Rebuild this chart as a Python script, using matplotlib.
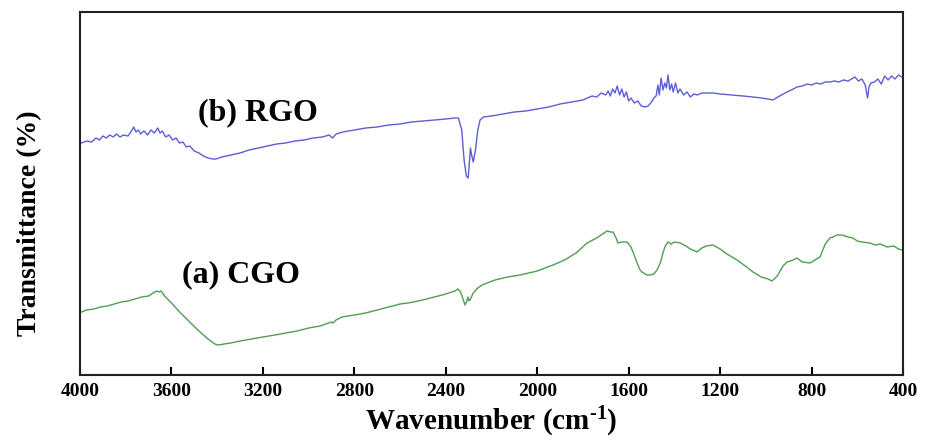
#!/usr/bin/env python3
"""FTIR transmittance spectra of CGO and RGO."""

import matplotlib

matplotlib.use("Agg")
import matplotlib.pyplot as plt
import numpy as np


# RGO spectrum (wavenumber, transmittance in arbitrary units)
RGO_WN = [
    3995, 3970, 3950, 3930, 3915, 3900, 3885, 3870, 3855, 3840, 3825, 3810,
    3790, 3775, 3765, 3755, 3745, 3735, 3720, 3705, 3690, 3675, 3660, 3650,
    3640, 3625, 3610, 3595, 3580, 3565, 3550, 3535, 3520, 3500, 3480, 3460,
    3440, 3420, 3405, 3380, 3340, 3300, 3260, 3220, 3180, 3140, 3100, 3060,
    3020, 2980, 2940, 2910, 2895, 2880, 2850, 2800, 2750, 2700, 2650, 2600,
    2550, 2500, 2450, 2400, 2360, 2345, 2330, 2320, 2310, 2302, 2296, 2292,
    2287, 2280, 2270, 2260, 2250, 2235, 2200, 2150, 2100, 2050, 2000, 1950,
    1900, 1850, 1800, 1780, 1760, 1740, 1720, 1700, 1690, 1680, 1670, 1660,
    1650, 1640, 1630, 1620, 1610, 1600, 1590, 1575, 1560, 1545, 1530, 1515,
    1500, 1490, 1480, 1472, 1466, 1458, 1450, 1442, 1435, 1428, 1420, 1412,
    1405, 1395, 1385, 1375, 1360, 1345, 1330, 1315, 1300, 1280, 1250, 1231,
    1200, 1150, 1100, 1056, 1020, 990, 969, 940, 907, 880, 864, 840,
    820, 800, 780, 760, 740, 719, 700, 680, 660, 640, 610, 595,
    580, 565, 555, 548, 540, 525, 510, 495, 480, 465, 450, 435,
    420, 405,
]
RGO_T = [
    232, 234, 233, 237, 235, 239, 237, 240, 238, 241, 238, 240,
    239, 244, 248, 243, 245, 241, 244, 240, 245, 242, 247, 242,
    244, 238, 240, 235, 237, 232, 233, 228, 229, 224, 222, 219,
    217, 216, 216, 218, 220, 222, 225, 227, 229, 231, 232, 234,
    235, 237, 238, 240, 237, 241, 243, 245, 247, 248, 250, 251,
    253, 254, 255, 256, 257, 257, 245, 215, 199, 197, 215, 227,
    220, 213, 225, 245, 255, 258, 259, 261, 263, 264, 266, 268,
    271, 273, 275, 277, 279, 278, 282, 280, 284, 279, 286, 282,
    289, 280, 286, 278, 283, 274, 277, 272, 274, 269, 268, 269,
    273, 277, 279, 290, 280, 297, 285, 292, 287, 300, 285, 291,
    283, 292, 282, 286, 280, 283, 278, 281, 280, 282, 282, 282,
    281, 280, 279, 278, 277, 276, 275, 279, 283, 286, 288, 289,
    291, 290, 292, 291, 293, 293, 294, 293, 295, 294, 298, 294,
    296, 290, 277, 289, 292, 293, 296, 291, 299, 295, 299, 296,
    300, 298,
]

# CGO spectrum (wavenumber, transmittance in arbitrary units)
CGO_WN = [
    3995, 3970, 3940, 3910, 3880, 3850, 3820, 3790, 3760, 3730, 3700, 3680,
    3665, 3655, 3645, 3630, 3600, 3560, 3520, 3480, 3440, 3410, 3395, 3370,
    3340, 3300, 3250, 3200, 3147, 3100, 3050, 3000, 2950, 2900, 2893, 2880,
    2854, 2800, 2750, 2700, 2650, 2600, 2565, 2500, 2450, 2400, 2360, 2347,
    2335, 2320, 2316, 2308, 2303, 2298, 2294, 2280, 2260, 2241, 2185, 2130,
    2075, 2000, 1931, 1880, 1830, 1782, 1740, 1695, 1680, 1668, 1655, 1647,
    1630, 1607, 1590, 1581, 1565, 1550, 1542, 1520, 1507, 1490, 1476, 1460,
    1450, 1440, 1428, 1415, 1400, 1375, 1350, 1330, 1301, 1280, 1260, 1231,
    1200, 1170, 1126, 1090, 1056, 1020, 990, 973, 950, 925, 907, 880,
    864, 840, 807, 785, 763, 740, 720, 706, 690, 667, 640, 619,
    600, 580, 545, 520, 500, 470, 440, 420, 404,
]
CGO_T = [
    63, 65, 66, 68, 69, 71, 73, 74, 76, 78, 79, 82,
    84, 83, 84, 79, 72, 62, 53, 44, 36, 31, 30, 31,
    32, 34, 36, 38, 40, 42, 44, 47, 49, 53, 52, 55,
    58, 60, 62, 65, 68, 71, 72, 75, 78, 81, 84, 86,
    83, 73, 70, 74, 78, 74, 75, 82, 87, 90, 95, 98,
    100, 104, 110, 115, 122, 132, 137, 144, 143, 143, 137, 132,
    133, 133, 128, 123, 113, 105, 103, 100, 100, 101, 105, 113,
    122, 129, 133, 131, 133, 132, 129, 126, 123, 127, 129, 130,
    126, 121, 115, 109, 103, 98, 96, 94, 99, 109, 113, 115,
    117, 113, 112, 115, 118, 131, 137, 138, 140, 140, 138, 137,
    134, 133, 132, 130, 131, 128, 129, 126, 125,
]

XTICKS = [4000, 3600, 3200, 2800, 2400, 2000, 1600, 1200, 800, 400]

SERIF = ["Liberation Serif", "DejaVu Serif"]


def main():
  plt.rcParams.update({
      "font.family": SERIF,
      "font.weight": "bold",
      "mathtext.fontset": "custom",
      "mathtext.rm": "Liberation Serif:bold",
      "mathtext.bf": "Liberation Serif:bold",
      "mathtext.default": "bf",
  })

  fig = plt.figure(figsize=(9.25, 4.4), dpi=100)
  ax = fig.add_axes([80 / 925, 65 / 440, 823 / 925, 363 / 440])

  ax.plot(np.array(RGO_WN), np.array(RGO_T), color="#5d5dd8", linewidth=1.0)
  ax.plot(np.array(CGO_WN), np.array(CGO_T), color="#4f9f4f", linewidth=1.0)

  ax.set_xlim(4000, 400)
  ax.set_ylim(0, 363)
  ax.set_yticks([])
  ax.set_xticks(XTICKS)
  ax.set_xticklabels([str(t) for t in XTICKS])
  ax.tick_params(axis="x", direction="in", length=6, width=1.5, pad=6,
                 labelsize=14, top=False)
  for label in ax.get_xticklabels():
    label.set_fontweight("bold")
  for spine in ax.spines.values():
    spine.set_linewidth(1.5)
    spine.set_color("#222222")

  ax.text(3484, 262, "(b) RGO", fontsize=23, fontweight="bold",
          ha="left", va="center")
  ax.text(3554, 100, "(a) CGO", fontsize=23, fontweight="bold",
          ha="left", va="center")

  fig.text(0.5 * (80 + 903) / 925, 1 - 430 / 440,
           "Wavenumber (cm$^{\\text{-}1}$)",
           fontsize=21, fontweight="bold", ha="center", va="baseline")
  fig.text(30 / 925, 1 - 223 / 440, "Transmittance (%)", fontsize=20,
           fontweight="bold", rotation=90, ha="center", va="center")

  fig.savefig("out.png", dpi=100)
  plt.close(fig)


if __name__ == "__main__":
  main()
